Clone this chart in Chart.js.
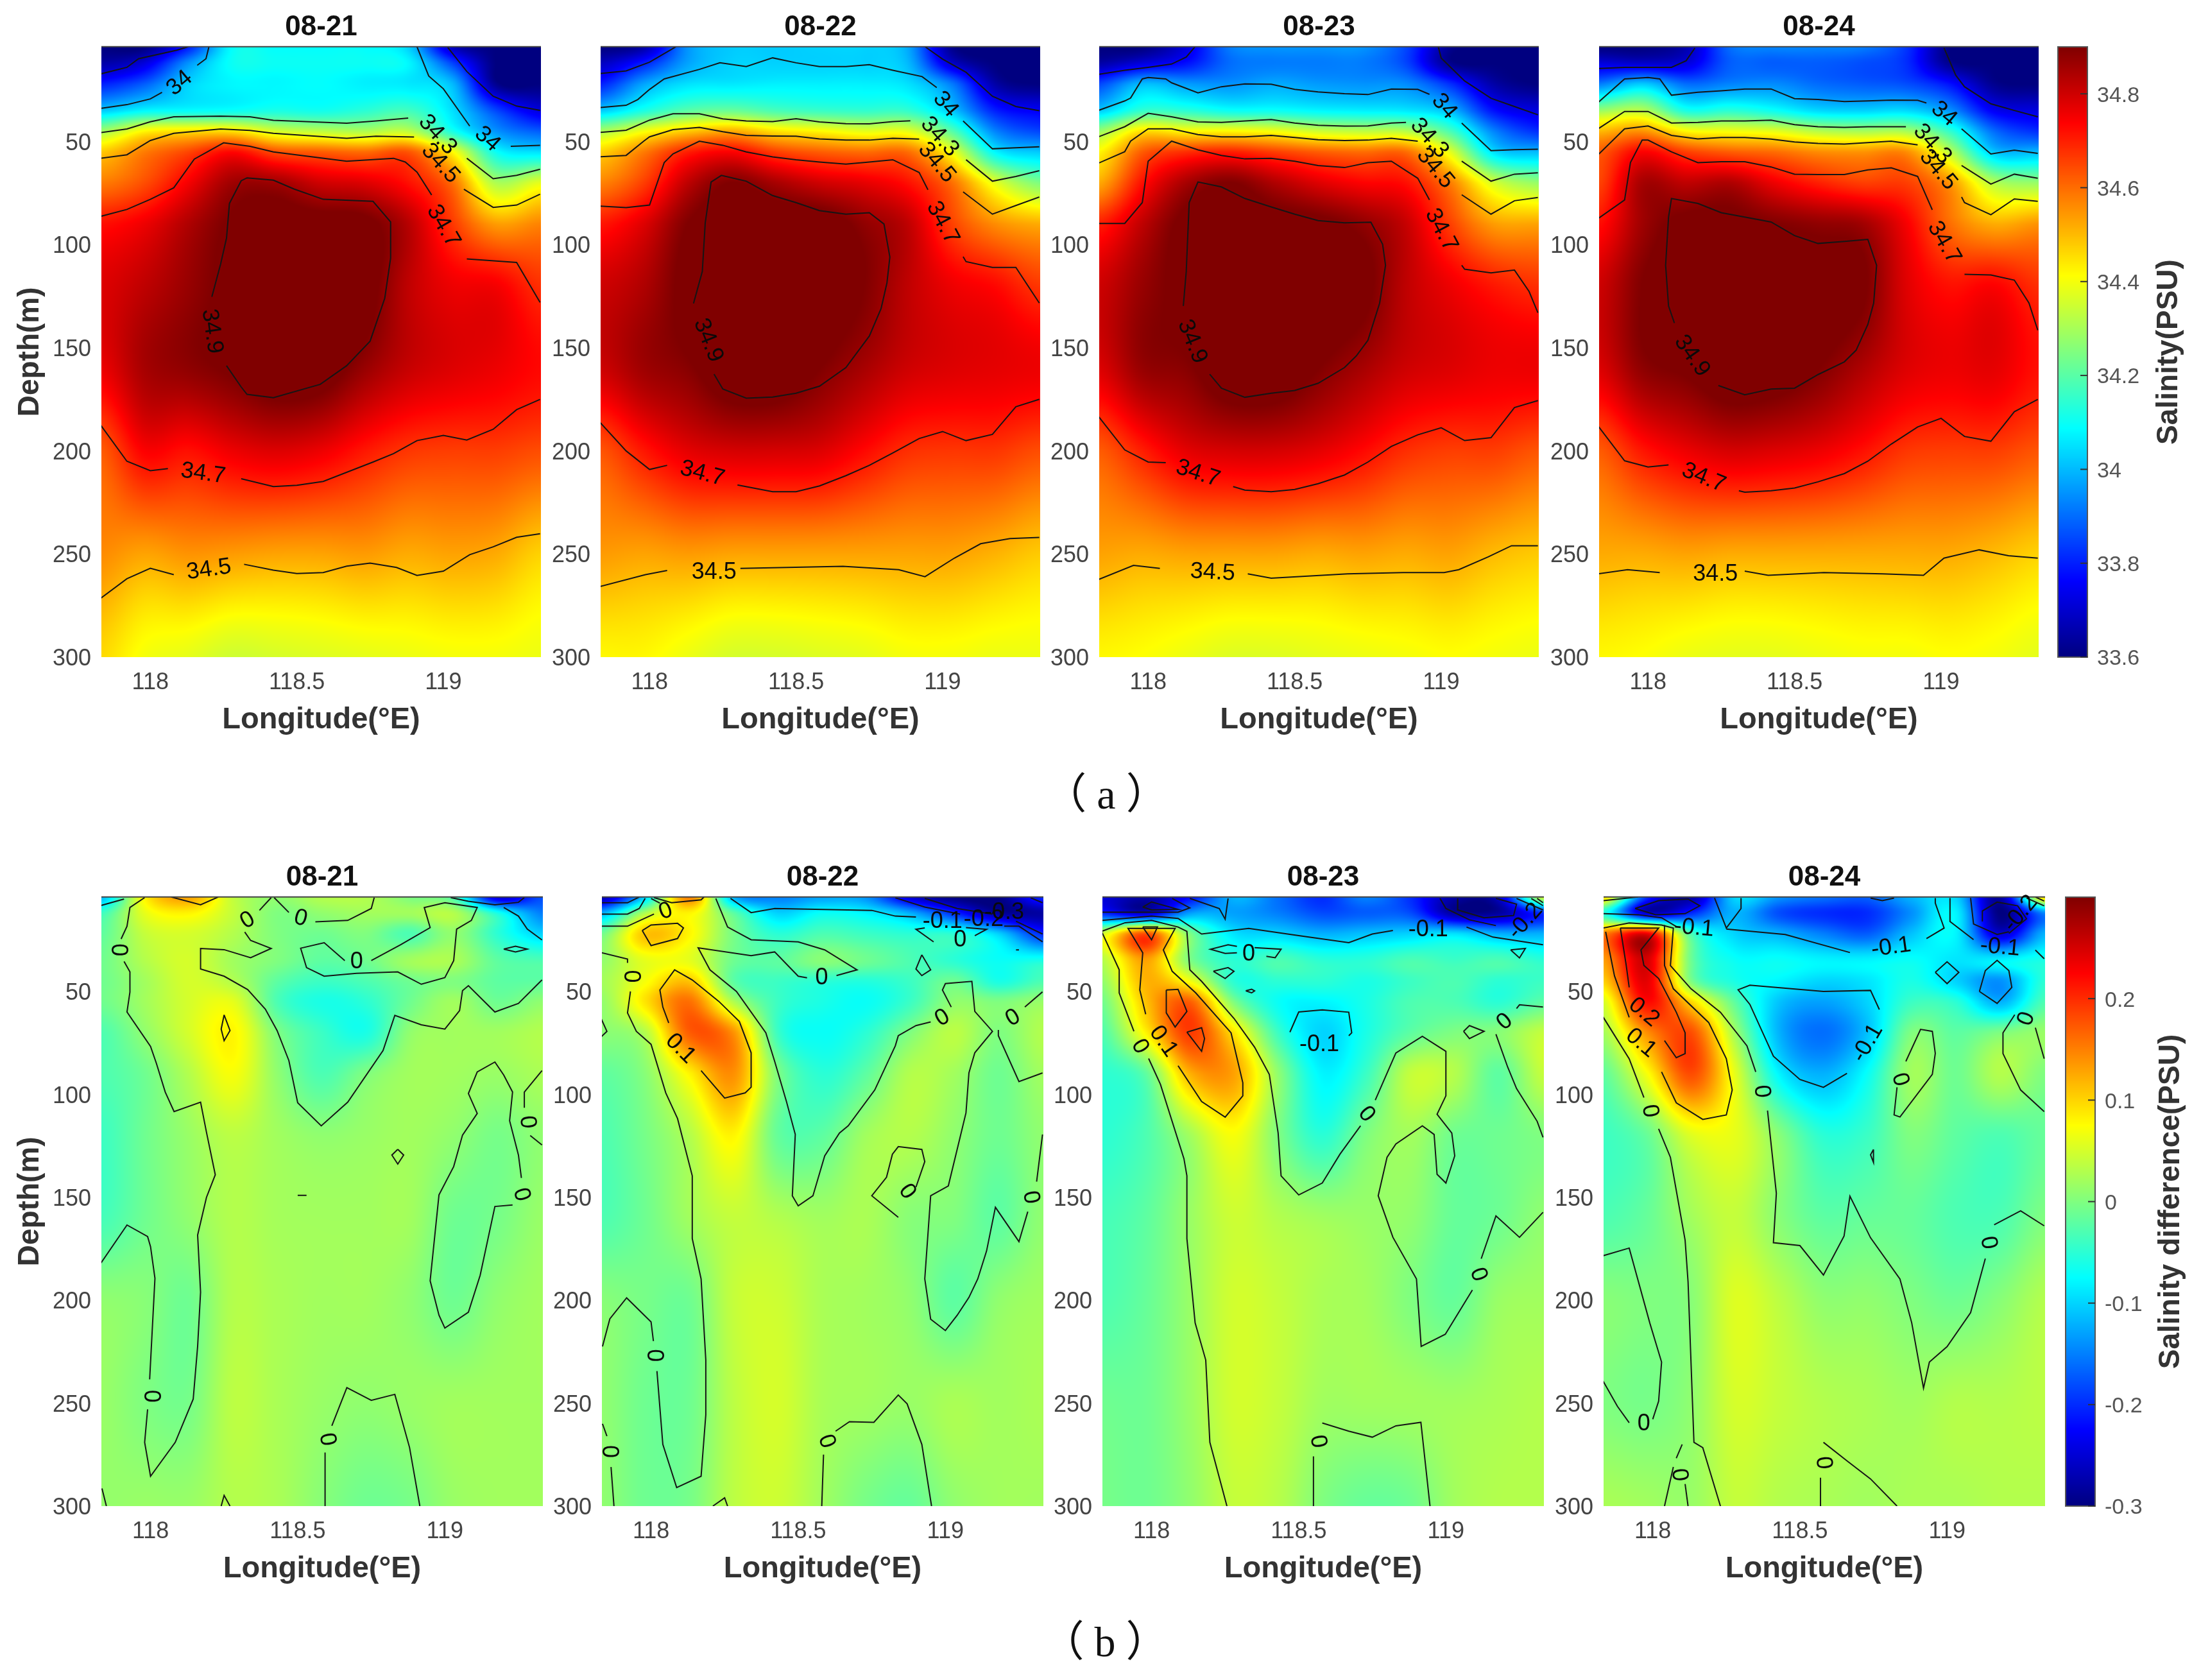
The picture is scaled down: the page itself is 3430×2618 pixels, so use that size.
<!DOCTYPE html>
<html>
<head>
<meta charset="utf-8">
<style>
  html, body { margin: 0; padding: 0; background: #fff; }
  body { width: 3430px; height: 2618px; position: relative; overflow: hidden; }
  canvas { position: absolute; }
  .caption { position: absolute; width: 300px; text-align: center; color: #111; letter-spacing: 16px;
    font-family: "Liberation Serif", "Noto Sans CJK SC", serif; font-size: 66px; line-height: 80px; }
</style>
<script src="https://cdn.jsdelivr.net/npm/chart.js@4"></script>
</head>
<body>
<div class="caption" style="left:1582px;top:1198px">（a）</div>
<div class="caption" style="left:1580px;top:2519px">（b）</div>
<script>
// grid nodes of the colour fields
const lonNodes = [117.83, 117.98, 118.13, 118.28, 118.43, 118.58, 118.73, 118.88, 119.03, 119.18, 119.33];
const depthNodes = [4, 12, 22, 35, 45, 55, 70, 90, 120, 160, 200, 250, 300];

const dayLabels = ["08-21", "08-22", "08-23", "08-24"];
const lonTicks = [118, 118.5, 119];
const depthTicks = [50, 100, 150, 200, 250, 300];
const salinityTicks = [33.6, 33.8, 34, 34.2, 34.4, 34.6, 34.8];
const diffTicks = [-0.3, -0.2, -0.1, 0, 0.1, 0.2];
const salinityRange = [33.6, 34.9];
const diffRange = [-0.3, 0.3];

// (a) salinity, rows follow depthNodes
const salinity21 = [
  [33.6,33.6,33.8,34.09,34.09,34.09,34.09,34.03,33.68,33.6,33.6],
  [33.65,33.72,33.95,34.1,34.1,34.1,34.1,34.08,33.85,33.6,33.6],
  [33.8,33.88,34.03,34.08,34.08,34.09,34.07,34.06,34.0,33.62,33.6],
  [34.02,34.08,34.09,34.1,34.12,34.11,34.14,34.17,34.05,33.85,33.72],
  [34.29,34.42,34.45,34.45,34.36,34.33,34.31,34.33,34.12,33.95,33.88],
  [34.48,34.58,34.65,34.73,34.64,34.62,34.6,34.63,34.42,34.1,34.05],
  [34.58,34.64,34.75,34.86,34.86,34.8,34.78,34.72,34.6,34.31,34.38],
  [34.72,34.76,34.84,34.91,34.93,34.93,34.92,34.83,34.67,34.54,34.57],
  [34.78,34.82,34.87,34.92,34.95,34.95,34.93,34.82,34.76,34.75,34.68],
  [34.76,34.85,34.88,34.91,34.95,34.94,34.87,34.81,34.78,34.76,34.73],
  [34.62,34.74,34.72,34.76,34.78,34.76,34.71,34.67,34.66,34.66,34.64],
  [34.56,34.53,34.55,34.54,34.53,34.53,34.54,34.52,34.53,34.52,34.47],
  [34.46,34.4,34.38,34.35,34.36,34.37,34.38,34.39,34.4,34.4,34.39]
];
const salinity22 = [
  [33.6,33.65,33.95,34.02,34.02,34.03,34.03,33.98,33.62,33.6,33.6],
  [33.68,33.8,33.97,34.03,34.03,34.03,34.03,34.0,33.7,33.6,33.6],
  [33.8,33.97,34.05,34.06,34.07,34.07,34.07,34.05,33.92,33.65,33.6],
  [34.02,34.12,34.2,34.22,34.18,34.16,34.15,34.15,34.02,33.8,33.75],
  [34.3,34.4,34.48,34.52,34.45,34.42,34.38,34.38,34.2,33.93,33.85],
  [34.47,34.58,34.7,34.74,34.66,34.62,34.6,34.6,34.4,34.08,34.02],
  [34.57,34.66,34.82,34.9,34.85,34.8,34.77,34.72,34.6,34.38,34.25],
  [34.71,34.78,34.9,34.94,34.94,34.94,34.88,34.82,34.66,34.56,34.52],
  [34.8,34.84,34.92,34.95,34.95,34.94,34.9,34.82,34.76,34.73,34.67],
  [34.8,34.86,34.89,34.95,34.95,34.9,34.85,34.8,34.78,34.77,34.76],
  [34.63,34.71,34.77,34.79,34.79,34.78,34.73,34.68,34.67,34.67,34.64],
  [34.54,34.53,34.54,34.53,34.53,34.53,34.53,34.53,34.53,34.51,34.48],
  [34.42,34.42,34.39,34.36,34.36,34.37,34.38,34.4,34.4,34.39,34.39]
];
const salinity23 = [
  [33.6,33.6,33.72,33.92,33.95,33.95,33.95,33.85,33.62,33.6,33.6],
  [33.65,33.72,33.78,33.9,33.92,33.92,33.92,33.85,33.62,33.6,33.6],
  [33.85,34.0,33.96,33.95,33.98,33.96,33.95,33.94,33.82,33.65,33.6],
  [34.02,34.15,34.14,34.1,34.1,34.08,34.07,34.06,34.0,33.78,33.72],
  [34.28,34.45,34.42,34.42,34.4,34.35,34.33,34.32,34.18,33.93,33.82],
  [34.42,34.62,34.68,34.7,34.66,34.62,34.6,34.6,34.38,34.05,34.0],
  [34.52,34.72,34.85,34.9,34.84,34.78,34.74,34.72,34.58,34.36,34.28],
  [34.7,34.82,34.92,34.93,34.93,34.92,34.88,34.81,34.66,34.54,34.53],
  [34.8,34.87,34.92,34.94,34.94,34.94,34.92,34.82,34.76,34.71,34.68],
  [34.78,34.87,34.89,34.95,34.95,34.9,34.85,34.8,34.78,34.76,34.76],
  [34.62,34.7,34.77,34.79,34.79,34.77,34.73,34.68,34.66,34.66,34.63],
  [34.53,34.52,34.53,34.53,34.53,34.52,34.53,34.52,34.53,34.5,34.48],
  [34.42,34.41,34.39,34.37,34.37,34.38,34.39,34.4,34.41,34.4,34.39]
];
const salinity24 = [
  [33.6,33.6,33.66,33.9,33.93,33.93,33.92,33.83,33.6,33.6,33.6],
  [33.72,33.7,33.72,33.88,33.88,33.88,33.86,33.82,33.62,33.6,33.6],
  [33.92,34.02,33.9,33.93,33.94,33.9,33.88,33.86,33.78,33.62,33.6],
  [34.28,34.32,34.12,34.14,34.1,34.04,34.03,34.04,33.95,33.75,33.72],
  [34.5,34.55,34.42,34.4,34.38,34.32,34.3,34.3,34.15,33.9,33.82],
  [34.62,34.74,34.66,34.62,34.6,34.56,34.55,34.56,34.33,34.02,34.0],
  [34.65,34.85,34.82,34.84,34.76,34.7,34.66,34.66,34.55,34.32,34.28],
  [34.72,34.86,34.92,34.92,34.9,34.88,34.86,34.75,34.6,34.52,34.55],
  [34.8,34.9,34.95,34.94,34.94,34.93,34.91,34.78,34.72,34.74,34.68],
  [34.78,34.88,34.91,34.95,34.94,34.9,34.84,34.78,34.76,34.77,34.72],
  [34.62,34.71,34.76,34.79,34.78,34.76,34.72,34.67,34.66,34.66,34.63],
  [34.52,34.52,34.53,34.52,34.52,34.52,34.52,34.52,34.52,34.5,34.47],
  [34.42,34.41,34.39,34.38,34.38,34.39,34.4,34.4,34.41,34.4,34.38]
];

// (b) salinity difference
const diff21 = [
  [-0.12,0.08,0.13,0.04,0.01,0.03,0.03,0,-0.03,-0.25,-0.18],
  [-0.04,0.06,0.08,0.04,0,0.01,0.02,0.02,0.03,-0.06,-0.15],
  [-0.02,0.04,0.05,0.03,0,-0.01,0,-0.03,0.01,-0.05,-0.1],
  [-0.01,0.03,0.05,0.02,0,-0.02,-0.01,0.02,0.025,-0.02,-0.03],
  [-0.01,0.02,0.05,0.03,-0.02,-0.04,-0.03,-0.01,0,-0.02,-0.02],
  [-0.01,0.02,0.05,0.06,-0.03,-0.06,-0.05,-0.01,0.02,-0.01,0.01],
  [-0.03,0.01,0.05,0.08,0,-0.04,-0.06,0.01,0.02,0.02,0.03],
  [-0.03,-0.01,0.03,0.07,0.01,-0.03,0,0.02,0.02,0.015,0.025],
  [-0.04,-0.01,0.015,0.035,0.02,0.01,0.015,0.02,0.01,-0.005,0.01],
  [-0.035,-0.01,0.01,0.03,0.022,0.02,0.02,0.02,-0.01,-0.005,0.015],
  [0.01,0.005,-0.01,0.03,0.025,0.02,0.02,0.01,-0.01,0.01,0.02],
  [0.015,0,-0.005,0.035,0.025,0.015,0.01,0.015,0.02,0.02,0.02],
  [0.012,0.015,0.015,0.03,0.025,0.005,-0.01,-0.005,0.015,0.02,0.02]
];
const diff22 = [
  [-0.28,-0.1,0.15,-0.12,-0.15,-0.13,-0.14,-0.25,-0.3,-0.3,-0.2],
  [-0.12,0.03,0.08,-0.02,-0.1,-0.07,-0.08,-0.12,-0.2,-0.28,-0.28],
  [-0.01,0.11,0.08,-0.005,-0.05,-0.03,-0.04,-0.05,-0.05,-0.1,-0.2],
  [0.01,0.06,0.06,-0.01,-0.02,0.005,-0.01,-0.03,-0.05,-0.07,-0.06],
  [0.02,0.07,0.11,-0.02,-0.04,-0.05,-0.055,-0.04,-0.01,-0.06,-0.03],
  [0.01,0.09,0.16,0.03,-0.04,-0.06,-0.07,-0.04,0.01,0,0.015],
  [0.005,0.03,0.17,0.14,-0.04,-0.07,-0.05,0,0.035,0,0.03],
  [-0.02,0.005,0.08,0.14,0,-0.05,-0.02,0.03,0.02,-0.01,0.02],
  [-0.03,-0.005,0.03,0.08,-0.015,-0.02,0.02,0.03,0.01,-0.01,0.01],
  [-0.03,-0.01,0.02,0.04,0.03,0.02,0.025,0.005,0,-0.02,0.01],
  [0.005,-0.005,-0.01,0.04,0.045,0.025,0.02,0.01,-0.02,0.01,0.02],
  [0.01,-0.01,-0.01,0.035,0.05,0.025,0.02,0.015,0.025,0.02,0.025],
  [0.01,-0.01,-0.005,0.035,0.045,0.02,-0.005,-0.015,0.01,0.02,0.02]
];
const diff23 = [
  [-0.25,-0.28,-0.22,-0.12,-0.16,-0.2,-0.15,-0.2,-0.28,-0.26,0.05],
  [-0.2,-0.25,-0.13,-0.13,-0.15,-0.18,-0.17,-0.18,-0.28,-0.28,-0.2],
  [0.05,0.18,0,-0.09,-0.1,-0.12,-0.11,-0.1,-0.09,-0.12,-0.12],
  [0.03,0.13,0,-0.05,-0.03,-0.05,-0.05,-0.03,-0.04,-0.03,-0.05],
  [0.01,0.12,0.07,-0.05,-0.05,-0.05,-0.06,-0.04,-0.03,-0.05,-0.04],
  [-0.01,0.11,0.17,0,-0.07,-0.08,-0.06,-0.03,-0.03,-0.05,-0.02],
  [-0.03,0.08,0.19,0.09,-0.04,-0.1,-0.06,-0.02,0,0.005,0.04],
  [-0.05,-0.02,0.12,0.13,0.01,-0.08,-0.04,0.04,0.03,-0.02,0.04],
  [-0.05,-0.03,0.02,0.07,0,-0.05,0,0.02,-0.01,-0.01,0],
  [-0.035,-0.02,0.015,0.045,0.03,0.02,0.015,0.01,-0.015,-0.01,0.01],
  [-0.03,-0.015,0.015,0.048,0.04,0.025,0.02,0,-0.015,0.015,0.02],
  [-0.01,-0.01,0.015,0.048,0.04,0.02,0.02,0.02,0.02,0.025,0.03],
  [-0.005,-0.01,0.01,0.04,0.032,0,-0.015,-0.01,0.02,0.03,0.03]
];
const diff24 = [
  [0.1,-0.2,-0.28,-0.1,-0.14,-0.16,-0.17,-0.12,-0.1,-0.28,0.1],
  [-0.05,-0.25,-0.2,-0.12,-0.18,-0.2,-0.2,-0.14,-0.08,-0.3,-0.15],
  [0.15,0.24,-0.03,-0.1,-0.12,-0.15,-0.17,-0.11,-0.08,-0.25,-0.12],
  [0.13,0.25,-0.01,-0.07,-0.07,-0.08,-0.08,-0.07,-0.09,-0.08,-0.06],
  [0.1,0.24,0,-0.06,-0.08,-0.1,-0.09,-0.06,-0.1,-0.14,-0.05],
  [0.05,0.22,0.1,-0.02,-0.11,-0.13,-0.1,-0.04,-0.05,-0.12,-0.03],
  [0.02,0.14,0.18,0.02,-0.12,-0.16,-0.11,0,-0.02,0,0.015],
  [-0.02,0.07,0.18,0.06,-0.08,-0.12,-0.07,0.02,-0.01,0.03,0],
  [-0.04,-0.015,0.055,0.06,0.005,-0.05,-0.04,0,-0.02,-0.03,-0.015],
  [-0.03,-0.015,0.02,0.04,0.005,-0.02,-0.015,-0.015,-0.03,-0.03,0],
  [0.005,0,0.005,0.055,0.035,0.01,0.01,0,-0.01,0.005,0.03],
  [0,-0.005,0.01,0.05,0.04,0.03,0.025,0.02,0.03,0.03,0.035],
  [0.025,0.02,0.015,0.04,0.03,0.025,0.02,0.025,0.025,0.03,0.03]
];

// contour lines as [longitude, depth]
const salinityLines21 = [
  [[117.83,17.2],[117.92,14],[117.96,9.8],[118.09,5.7],[118.13,4]],
  [[119.015,4.3],[119.08,16],[119.17,28],[119.25,32.8],[119.33,34.9]],
  [[117.83,33.9],[117.92,32.1],[118,29.3],[118.04,26.1]],
  [[118.16,13],[118.19,9.8],[118.2,4]],
  [[118.91,4],[118.95,18.2],[119,24.4],[119.09,42.5]],
  [[119.23,52.3],[119.33,51.8]],
  [[117.83,45.7],[117.92,43.9],[118,40.4],[118.08,38],[118.24,37.7],[118.34,38],[118.42,39.7],[118.67,41.1],[118.77,40],[118.88,38.6]],
  [[119.08,58.1],[119.17,68],[119.25,66.4],[119.33,63.4]],
  [[117.83,58.1],[117.92,56.4],[118,49.5],[118.08,46],[118.24,43.9],[118.34,44.6],[118.42,46],[118.67,48.4],[118.77,47.4],[118.9,47.8]],
  [[119.07,73.1],[119.17,81.9],[119.25,80.8],[119.33,75.5]],
  [[117.83,86.3],[117.92,82.9],[118,78],[118.08,72.4],[118.15,58.5],[118.25,50.6],[118.34,52.3],[118.42,55],[118.67,59.5],[118.83,58.1],[118.87,59.9],[118.91,64.8],[118.96,75.9]],
  [[119.08,106.9],[119.25,108.6],[119.33,128]],
  [[118.21,125.3],[118.24,109.3],[118.26,96.8],[118.27,80],[118.31,69],[118.33,67.6],[118.42,68.7],[118.49,73],[118.59,78],[118.76,79],[118.82,89],[118.82,106.5],[118.8,126],[118.75,146.8],[118.67,158.7],[118.58,167.7],[118.42,174.2],[118.33,172.6],[118.31,169],[118.26,158.7]],
  [[117.83,187.4],[117.92,205],[118,209.6],[118.06,208.6]],
  [[118.31,213.5],[118.42,217.3],[118.5,216.7],[118.59,214.8],[118.76,205.4],[118.83,201.3],[118.91,195],[119,192.5],[119.08,194.7],[119.17,189.5],[119.25,180],[119.33,175]],
  [[117.83,271.5],[117.92,262],[118,256.9],[118.08,260]],
  [[118.32,255],[118.42,257.8],[118.5,259.5],[118.59,259],[118.67,255.9],[118.75,254.4],[118.84,256.5],[118.91,260.4],[119,258.3],[119.09,250.3],[119.17,246.5],[119.25,241.9],[119.33,240.2]]
];
const salinityLabels21 = [
  ["34",118.10,21.7,-40],["34.3",118.98,46.7,48],["34.5",118.99,60.6,48],["34",119.15,48.8,42],
  ["34.7",119,91,60],["34.9",118.21,142,82],["34.7",118.18,211,8],["34.5",118.2,257.6,-8]
];
const salinityLines22 = [
  [[117.83,17],[117.92,15.7],[118,11.5],[118.09,4]],
  [[118.94,4],[119,10],[119.08,16.4],[119.17,28],[119.25,33],[119.33,35]],
  [[117.83,33.5],[117.92,32.4],[117.96,29.6],[118,24.7],[118.05,19.6],[118.17,15],[118.24,11.8],[118.33,13.6],[118.42,9.4],[118.5,11.8],[118.58,13.6],[118.67,13.6],[118.75,12.7],[118.83,15.4],[118.93,18.5],[118.98,23.8]],
  [[119.07,40],[119.17,53.5],[119.25,53],[119.33,52.5]],
  [[117.83,45.6],[117.92,44.5],[118,39.6],[118.08,36.5],[118.17,36.5],[118.25,39],[118.33,40],[118.42,40.3],[118.5,38.9],[118.58,40.5],[118.67,41.3],[118.75,41.4],[118.83,40.3],[118.89,39.9]],
  [[119.08,58.8],[119.17,69.2],[119.25,66.9],[119.33,64.1]],
  [[117.83,57.4],[117.92,56.7],[117.98,49.8],[118,47.7],[118.08,44.2],[118.17,43.1],[118.25,45.2],[118.33,47],[118.42,47.3],[118.5,47.4],[118.58,48.7],[118.67,49.3],[118.75,49.3],[118.83,48.4],[118.92,48.8]],
  [[119.07,74.4],[119.17,85.2],[119.25,81],[119.33,76.9]],
  [[117.83,81.3],[117.92,82],[118,80.8],[118.05,60.2],[118.08,56],[118.17,49.8],[118.25,51.8],[118.33,55],[118.42,57.4],[118.5,58.8],[118.58,59.9],[118.67,60.9],[118.75,59.9],[118.83,58.8],[118.92,65],[118.95,73.4]],
  [[119.07,105.8],[119.08,108.2],[119.17,111],[119.25,111],[119.33,128.3]],
  [[118.15,128.5],[118.18,113],[118.19,89.4],[118.21,69.6],[118.245,66.4],[118.33,69.2],[118.42,76.2],[118.5,79.6],[118.58,83.5],[118.67,85.2],[118.75,84.5],[118.8,90],[118.82,106],[118.81,118.6],[118.79,131],[118.75,144.3],[118.67,159.6],[118.58,168.6],[118.5,172],[118.42,173.9],[118.33,174.4],[118.25,170],[118.22,162.8]],
  [[117.83,186],[117.92,200],[118,209],[118.06,207]],
  [[118.3,216.5],[118.42,219.8],[118.5,219.8],[118.58,217],[118.67,212],[118.75,207],[118.83,201],[118.92,194],[119,190.6],[119.08,195],[119.17,192],[119.25,178.6],[119.33,175]],
  [[117.83,265.8],[117.986,260],[118.06,258]],
  [[118.31,257],[118.66,256],[118.85,257.6],[118.94,261],[119.04,252],[119.13,245],[119.23,242.5],[119.33,242]]
];
const salinityLabels22 = [
  ["34",119.01,32,50],["34.3",118.99,47.7,48],["34.5",118.98,60.2,50],["34.7",119,89.4,62],
  ["34.9",118.2,146.4,68],["34.7",118.18,211,15],["34.5",118.22,259,0]
];
const salinityLines23 = [
  [[117.83,17.4],[117.92,15.4],[118,14],[118.08,12.4],[118.13,9],[118.16,4]],
  [[118.99,4],[119,9.5],[119.08,20.6],[119.17,29],[119.25,33],[119.33,37]],
  [[117.83,34.9],[117.92,30.3],[117.94,28.9],[117.98,19.6],[118,18.9],[118.06,19.6],[118.08,21.5],[118.17,26.4],[118.25,23.4],[118.33,22],[118.42,22.2],[118.5,24.7],[118.58,25.9],[118.67,26.8],[118.75,27.2],[118.83,24.5],[118.92,24.7],[118.96,27.1]],
  [[119.07,41],[119.17,54.4],[119.25,53.9],[119.33,53.7]],
  [[117.83,47.7],[117.92,42.8],[118,36.3],[118.08,38],[118.17,40.5],[118.25,40.7],[118.33,40],[118.42,39.3],[118.5,41],[118.58,42.1],[118.67,42.5],[118.75,42.4],[118.83,41],[118.88,40.7]],
  [[119.07,59.5],[119.17,69.2],[119.25,65.8],[119.33,65.1]],
  [[117.83,60.5],[117.92,54.9],[117.94,49.8],[118,43.8],[118.08,43.8],[118.17,46.6],[118.25,47.7],[118.33,47.7],[118.42,47],[118.5,48],[118.58,49.1],[118.67,49.5],[118.75,49.3],[118.83,48.4],[118.92,49.8]],
  [[119.07,75.8],[119.17,85.2],[119.25,78.7],[119.33,77.1]],
  [[117.83,89.7],[117.92,89.7],[117.98,79.6],[118,59.5],[118.08,49.8],[118.17,54],[118.25,56.7],[118.33,58.4],[118.42,58.1],[118.5,59.5],[118.58,61.6],[118.67,62.6],[118.75,60.2],[118.83,59.5],[118.92,67.8],[118.96,78.3]],
  [[119.07,110],[119.08,111.9],[119.17,113.7],[119.25,112.3],[119.3,122.7],[119.33,133]],
  [[118.12,129.7],[118.13,113],[118.14,79.6],[118.17,69.6],[118.25,72],[118.33,77.6],[118.42,81.7],[118.5,85.2],[118.58,88.3],[118.67,89.4],[118.76,89.1],[118.8,99.8],[118.81,110],[118.79,128.3],[118.75,146.4],[118.71,154],[118.67,159.6],[118.58,167.2],[118.5,170.7],[118.42,172],[118.33,174],[118.25,169.6],[118.21,162.8]],
  [[117.83,183.2],[117.92,199.5],[118,205.4],[118.06,205.7]],
  [[118.29,217.3],[118.33,219],[118.42,219.8],[118.5,218.7],[118.58,215.9],[118.67,211.7],[118.75,205.4],[118.83,197.8],[118.92,192.2],[119,188.8],[119.08,195],[119.17,193.6],[119.25,179],[119.33,175.6]],
  [[117.83,262.4],[117.95,255.5],[118.04,257]],
  [[118.34,259.6],[118.42,261.7],[118.68,259.6],[118.87,259],[119.01,259],[119.06,257.6],[119.16,251.4],[119.24,246],[119.33,246]]
];
const salinityLabels23 = [
  ["34",119.01,33,50],["34.3",118.96,48.4,48],["34.5",118.98,63,50],["34.7",119,92.9,62],
  ["34.9",118.15,147,68],["34.7",118.17,211,18],["34.5",118.22,259,3]
];
const salinityLines24 = [
  [[117.83,14.6],[117.92,14],[118,14],[118.08,14],[118.13,10.8],[118.16,4.6]],
  [[119.01,4.6],[119.05,17.8],[119.08,23.4],[119.17,31.7],[119.25,34.9],[119.33,38]],
  [[117.83,31],[117.92,19.6],[118,18.9],[118.04,19.6],[118.08,27.5],[118.17,26.1],[118.25,25.4],[118.33,24.5],[118.42,24.5],[118.5,29.2],[118.58,29.6],[118.67,30.6],[118.75,30.3],[118.83,29.9],[118.92,30],[118.95,31.3]],
  [[119.07,43.8],[119.17,56],[119.25,54.2],[119.33,55.7]],
  [[117.83,43.8],[117.92,35.4],[118,35.4],[118.08,41],[118.17,40.7],[118.25,40],[118.33,40],[118.42,39.6],[118.5,41.8],[118.58,42.8],[118.67,43.1],[118.75,42.8],[118.83,42.8],[118.88,42.8]],
  [[119.07,61.6],[119.17,70.6],[119.25,65.8],[119.33,67.8]],
  [[117.83,56.3],[117.92,43.8],[118,42.4],[118.08,47],[118.17,48.7],[118.25,48],[118.33,48],[118.42,48.8],[118.5,50.2],[118.58,50.9],[118.67,51.2],[118.75,50.5],[118.83,49.8],[118.92,51.6]],
  [[119.07,76.9],[119.08,79.6],[119.17,85.5],[119.25,77.8],[119.33,79]],
  [[117.83,87.3],[117.92,78.3],[117.94,60.2],[117.98,49.3],[118,49.3],[118.08,55],[118.17,60.2],[118.25,59.8],[118.33,59.8],[118.42,62.3],[118.5,65.8],[118.58,66],[118.67,66],[118.75,63.7],[118.83,62.7],[118.92,66.9],[118.97,83.1]],
  [[119.08,114.4],[119.17,114.7],[119.25,117.2],[119.3,128.3],[119.33,141.5]],
  [[118.09,138],[118.07,129.7],[118.06,110],[118.07,86.6],[118.08,77.6],[118.17,80],[118.25,84.5],[118.33,86.6],[118.42,89],[118.5,95.6],[118.58,99.4],[118.67,98.4],[118.75,97.4],[118.78,110],[118.77,128.3],[118.75,138.7],[118.71,151.2],[118.67,156.8],[118.58,163],[118.5,169.6],[118.42,170],[118.33,172.8],[118.24,168.3]],
  [[117.83,188],[117.92,204.8],[118,207.8],[118.07,206.8]],
  [[118.31,219.3],[118.33,220],[118.42,219.3],[118.5,218],[118.58,215],[118.67,211],[118.75,205],[118.83,196.7],[118.92,188.4],[119,184.2],[119.08,193],[119.17,195.3],[119.25,181],[119.33,175]],
  [[117.83,259.6],[117.93,257.6],[118.04,259]],
  [[118.33,258.3],[118.41,260.3],[118.6,259],[118.8,259.6],[118.94,260.3],[119.01,252],[119.13,248],[119.23,250.8],[119.33,252]]
];
const salinityLabels24 = [
  ["34",119.01,36.6,40],["34.3",118.97,51.2,48],["34.5",118.99,63.7,50],["34.7",119.01,99,60],
  ["34.9",118.15,154,55],["34.7",118.19,213,22],["34.5",118.23,260,0]
];

const diffLines21 = [
  [[118.07,4],[118.17,7.8],[118.23,4]],
  [[117.98,4.3],[117.93,9.1],[117.92,18.2],[117.9,24.4]],
  [[117.91,35.3],[117.93,40.4],[117.93,50.2],[117.92,59.9],[118,76.6],[118.02,84.9],[118.05,98.8],[118.08,108.3],[118.17,103.7],[118.19,118.3],[118.22,139],[118.19,150],[118.16,168.3],[118.17,196],[118.16,222.4],[118.145,248],[118.084,269],[118,285.5],[117.98,269],[117.99,253]],
  [[117.997,238.4],[118.015,189.3],[118,173.9],[117.99,169],[117.92,163.4],[117.83,182.2]],
  [[118.41,4.3],[118.37,10.5]],
  [[118.32,21],[118.34,25.1],[118.41,29],[118.34,33.5],[118.25,29.6],[118.17,29],[118.17,39],[118.25,42.5],[118.33,49],[118.39,58.5],[118.43,68.9],[118.47,83.5],[118.5,104],[118.58,115.2],[118.67,103.7],[118.79,78.6],[118.83,61.5],[118.92,66.1],[119,68.2],[119.05,59.2],[119.06,49.5],[119.08,47.1],[119.17,59.9],[119.25,55.7],[119.33,44.3]],
  [[118.42,4.3],[118.47,11.5]],
  [[118.56,16.1],[118.67,15.4],[118.75,9.6],[118.76,4.3]],
  [[118.66,34.9],[118.59,26.2],[118.51,28.9],[118.53,38.3],[118.59,42.5],[118.7,41.1],[118.84,40.4],[118.92,46.4],[119,43.2],[119.03,34.9],[119.04,19.6],[119.09,15.4],[119.11,9.1],[119,6.8],[118.93,9.1],[118.95,18.9],[118.85,27.2],[118.75,34.9]],
  [[119.02,4.3],[119.08,6.1],[119.17,7.8],[119.25,6.6],[119.27,4.3]],
  [[119.2,9.1],[119.25,13.3],[119.28,19.6],[119.33,24.9]],
  [[117.83,8.2],[117.91,5]],
  [[118.25,61.3],[118.24,68.2],[118.25,73.8],[118.27,68.9],[118.25,61.3]],
  [[119.2,29.3],[119.24,27.9],[119.28,29.3],[119.24,30.7],[119.2,29.3]],
  [[118.84,126.6],[118.86,129.4],[118.84,133.8],[118.82,129.4],[118.84,126.6]],
  [[118.5,149],[118.53,149]],
  [[119.23,153.7],[119.17,154.4],[119.12,187.8],[119.08,205.8],[119,213.5],[118.98,207.2],[118.95,190.5],[118.98,148.8],[119.03,135],[119.06,119.7],[119.11,109.2],[119.08,99.5],[119.11,89],[119.17,84.2],[119.2,90.5],[119.23,98.8],[119.22,112.7],[119.25,129.4],[119.26,140.5]],
  [[119.33,88.4],[119.27,98.8],[119.27,106.4]],
  [[119.29,119.9],[119.33,124.5]],
  [[117.835,291.4],[117.85,300]],
  [[118.24,300],[118.25,294.8],[118.27,300]],
  [[118.593,300],[118.593,274]],
  [[118.616,261],[118.667,242.4],[118.75,248.6],[118.83,245.7],[118.88,271.5],[118.915,300]]
];
const diffLabels21 = [
  ["0",117.89,29.7,90],["0",118.33,15.4,-30],["0",118.51,14.4,15],["0",118.7,35.5,0],
  ["0",119.28,113.4,85],["0",119.26,148.6,75],["0",118,246.6,90],["0",118.6,267.6,80]
];
const diffLines22 = [
  [[117.83,6.8],[117.92,6.8],[117.96,4]],
  [[117.83,12.3],[117.92,12.3],[117.96,9.6],[117.98,4.7]],
  [[117.83,18.2],[117.92,18.2],[118.01,12.3]],
  [[118.03,7],[118,4.7]],
  [[118.01,4.3],[118.07,6.8],[118.17,5.4],[118.18,4]],
  [[117.97,20.3],[118,27.6],[118.09,24.2],[118.11,19],[118.09,16.8],[118,17.6],[117.97,20.3]],
  [[118.06,65.2],[118.04,57.5],[118.03,49.2],[118.08,39.4],[118.14,44.3],[118.23,54.7],[118.3,64.5],[118.34,79.7],[118.34,96.4],[118.32,99.2],[118.25,101.7],[118.17,88.4]],
  [[117.83,31],[117.92,34.2],[117.92,36]],
  [[117.93,49.9],[117.92,60.3],[117.95,69.3],[118,75.6],[118.05,99.2],[118.09,111.7],[118.14,139.5],[118.14,170],[118.17,189.6],[118.186,229],[118.186,255.6],[118.17,285.5],[118.087,291],[118.04,270],[118.02,234.4]],
  [[118.008,219.8],[118,210.5],[117.917,198.8],[117.86,209],[117.835,222.4]],
  [[118.22,4.7],[118.26,18.6],[118.34,24.8],[118.5,25.8],[118.59,29.7],[118.7,39.4],[118.63,42.2]],
  [[118.53,43.3],[118.5,42.5],[118.42,30.7],[118.34,32.5],[118.16,28.7],[118.2,39.4],[118.29,49.9],[118.39,70],[118.42,83.9],[118.46,103.4],[118.49,119.4],[118.48,149.2],[118.5,154.1],[118.55,149.2],[118.59,129.8],[118.64,118.7],[118.67,115.2],[118.76,97.8],[118.83,76.3],[118.84,71.4],[118.9,66.5],[118.95,64.7]],
  [[119.02,57.5],[118.99,49.2],[119,46.1],[119.09,45],[119.1,59.6],[119.16,69.3],[119.1,79.7],[119.08,89.5],[119.07,108.9],[119.05,120.8],[119.01,144.4],[118.95,149.2],[118.93,189.6],[118.95,209.2],[119,214.7],[119.04,207.3],[119.08,198.6],[119.11,189.6],[119.14,176],[119.17,154.8],[119.25,171.5],[119.28,156.9]],
  [[119.31,142.3],[119.33,119.4]],
  [[119.33,50.1],[119.27,57.5]],
  [[119.18,68.6],[119.18,71.4],[119.25,93.7],[119.33,89.5]],
  [[118.92,32.1],[118.95,39.4],[118.92,42.2],[118.9,39],[118.92,32.1]],
  [[118.84,159.7],[118.75,149.2],[118.8,140.2],[118.82,129],[118.84,125.3],[118.92,126.7],[118.93,132.6],[118.9,145]],
  [[118.27,4.7],[118.34,11.6],[118.42,9.6],[118.75,10.5],[118.83,13.3],[118.9,13.7]],
  [[118.96,25.8],[118.9,19.7],[118.93,19]],
  [[119.07,18.9],[119.14,19.7],[119.1,22.8]],
  [[119.2,18.2],[119.25,18.2],[119.33,25.8]],
  [[118.83,4.4],[118.93,8.9],[119.05,12.3]],
  [[118.93,4.7],[119.04,9.6],[119.16,12.3]],
  [[119.29,4.4],[119.33,6.8]],
  [[119.24,15.8],[119.33,22]],
  [[119.24,29.7],[119.25,29.7]],
  [[117.83,63],[117.85,69.3],[117.83,72]],
  [[117.835,260],[117.85,266]],
  [[117.864,281],[117.874,300]],
  [[118.21,300],[118.25,296],[118.26,300]],
  [[118.58,300],[118.586,275]],
  [[118.627,263.6],[118.674,259],[118.757,259.3],[118.84,246],[118.87,250.3],[118.92,270],[118.953,300]]
];
const diffLabels22 = [
  ["0",118.05,11,-20],["0",117.93,42.6,90],["0.1",118.1,77.7,45],["0",118.58,43.3,0],
  ["-0.1",118.99,15.8,0],["-0.2",119.13,15.1,0],["-0.3",119.2,11.6,0],["0",119.05,24.9,0],
  ["0",118.99,62.8,-30],["0",119.23,62.8,-30],["0",118.87,147.2,55],["0",119.29,150,80],
  ["0",118.01,226.8,90],["0",117.856,273.5,90],["0",118.596,268.6,70]
];
const diffLines23 = [
  [[117.83,11.4],[118.09,11.4],[118.13,9.3],[118.07,4.7]],
  [[117.97,8.9],[118,6.4],[118.09,10],[118,10.3],[117.97,8.9]],
  [[117.83,15.4],[118,13.3],[118.09,14.4],[118.17,22],[118.33,19.3],[118.5,22.8],[118.67,26.2],[118.75,22],[118.82,20.3]],
  [[119.07,18.6],[119.16,23.5],[119.33,27.2]],
  [[117.83,20.7],[117.89,39.4],[117.89,50.6],[117.94,69.3]],
  [[117.99,82.5],[118.03,95],[118.11,131.2],[118.12,139.5],[118.12,170],[118.148,211],[118.184,229],[118.198,269],[118.256,300]],
  [[117.83,20.7],[117.91,16.5],[118,15.4],[118.09,18.6],[118.12,20.7],[118.13,39.4],[118.17,45],[118.28,63],[118.35,77],[118.4,90.2],[118.43,118.7],[118.44,139.5],[118.5,148.8],[118.58,143],[118.64,129],[118.71,115.2]],
  [[118.76,102.7],[118.83,79.8],[118.92,71.7],[119,79],[119,88],[119,100.6],[118.97,109.6],[119.02,118.7],[119.03,129.8],[119,143],[118.97,138.8],[118.96,119.4],[118.92,115.2],[118.83,124],[118.8,130.5],[118.77,149.2],[118.82,169.4],[118.9,189.6],[118.916,222.4],[118.998,216.5],[119.09,195]],
  [[119.12,179.8],[119.17,159],[119.25,169.4],[119.33,157.2]],
  [[117.98,61],[117.96,49.2],[117.97,31.1],[117.92,19.3],[118.08,19.3],[118.04,29.7],[118.07,40.1],[118.15,50.6],[118.27,70],[118.31,94.3],[118.31,100.6],[118.25,111],[118.17,103.4],[118.09,86]],
  [[117.97,18.6],[118.02,18.6],[118,24.8],[117.97,18.6]],
  [[118.05,49.2],[118.09,48.9],[118.12,59.6],[118.08,67.2],[118.05,60.3],[118.05,49.2]],
  [[118.12,69.7],[118.17,67.5],[118.18,72.8],[118.17,79],[118.12,69.7]],
  [[118.29,28],[118.26,27.2],[118.2,29.4],[118.25,31.4],[118.29,31.1]],
  [[118.35,28.6],[118.44,29.4],[118.42,33.5],[118.39,32.8]],
  [[118.21,40.1],[118.26,38.3],[118.28,40.1],[118.25,43.6],[118.21,40.1]],
  [[118.32,49.6],[118.34,48.8],[118.35,49.6],[118.34,50.6],[118.32,49.6]],
  [[118.47,69.7],[118.5,59.9],[118.58,58.9],[118.67,60],[118.68,70],[118.67,71.4]],
  [[118.13,4.7],[118.23,9.6],[118.25,14.8],[118.26,4.7]],
  [[118.98,4.7],[119,9.6],[119.08,15.1],[119.17,17.9]],
  [[119.04,4.7],[119.04,10.3],[119.13,14.1],[119.23,13],[119.24,7.5],[119.17,4.7]],
  [[119.24,4.7],[119.33,10.3]],
  [[119.29,4.7],[119.33,8.2]],
  [[119.31,4.7],[119.33,6.8]],
  [[119.22,29.7],[119.27,29],[119.25,33.6],[119.22,29.7]],
  [[119.06,69.3],[119.08,66.5],[119.13,69.3],[119.08,72.8],[119.06,69.3]],
  [[119.24,58.2],[119.25,56.4],[119.33,57.5]],
  [[119.17,70.7],[119.21,86.7],[119.24,97.1],[119.31,113],[119.33,120.8]],
  [[118.55,300],[118.55,275.8]],
  [[118.58,259.6],[118.67,263.6],[118.75,266.5],[118.83,261],[118.915,259.3],[118.946,300]]
];
const diffLabels23 = [
  ["-0.1",118.94,20,0],["-0.2",119.27,15.8,-48],["0",118.33,31.8,0],["0.1",118.04,74.2,55],
  ["0",117.96,76.7,60],["-0.1",118.57,75.7,0],["0",118.73,109.6,50],["0",119.2,64.7,-40],
  ["0",119.11,187.5,70],["0",118.565,268.6,80]
];
const diffLines24 = [
  [[117.83,12.1],[117.95,12.6],[118.03,14.1],[118.08,18.4]],
  [[117.83,19.1],[117.92,16.6],[118.03,17.6],[118.07,19.1],[118.06,37.3],[118.13,48.6],[118.23,60],[118.32,76.3],[118.35,89]],
  [[118.39,107.8],[118.42,148],[118.41,172],[118.5,173.4],[118.58,187.7],[118.65,168.8],[118.67,149.4],[118.74,169.6],[118.84,189.7],[118.88,211],[118.92,242.7],[118.94,230],[119,222.5],[119.08,206],[119.13,179.7]],
  [[119.16,163.3],[119.25,156.5],[119.33,163.8]],
  [[117.83,62],[117.92,82.6],[117.97,101.5]],
  [[118.02,116.7],[118.06,130.5],[118.11,170.8],[118.12,191],[118.14,269],[118.17,271.6],[118.23,300]],
  [[117.89,19.1],[117.91,37.3],[117.92,47.9]],
  [[118.04,73.8],[118.08,82.1],[118.11,80.1],[118.11,70],[118.08,60],[118.02,43.6],[117.97,37.3],[117.96,29.7],[118.02,19.1],[117.89,19.1]],
  [[117.84,20.9],[117.87,42.3],[117.92,62.5]],
  [[118.03,89],[118.08,104],[118.17,112.1],[118.25,109.9],[118.27,97.8],[118.25,82.6],[118.19,65],[118.07,48.6],[118.04,37.3],[118.04,17.6]],
  [[118.21,4.5],[118.25,19.1],[118.3,9.6],[118.3,4.5]],
  [[118.25,19.6],[118.45,22.2],[118.67,31]],
  [[118.93,24.2],[118.99,19.1],[118.96,7],[118.96,4.5]],
  [[119.01,4.5],[119.01,15.9],[119.09,24.7]],
  [[119.3,29.8],[119.33,34]],
  [[118.74,4.5],[118.78,5.8],[118.82,4.5]],
  [[119.08,4.5],[119.09,17.1],[119.17,22.2],[119.21,20.9]],
  [[119.12,15.9],[119.12,10.8],[119.17,6.5],[119.24,8.3],[119.27,14.6],[119.21,21.7]],
  [[119.27,4.5],[119.33,8.3]],
  [[119.3,4],[119.33,6]],
  [[117.83,5.8],[117.95,4]],
  [[117.94,9.6],[118.02,5.8],[118.12,5],[118.16,8.3],[118.11,12.1],[118.01,12.6],[117.94,9.6]],
  [[118.96,40.6],[119,35.5],[119.04,40.6],[119,46.1],[118.96,40.6]],
  [[119.11,49.9],[119.13,39.8],[119.17,34.8],[119.21,39.8],[119.22,47.9],[119.17,55.7],[119.11,49.9]],
  [[118.77,58.7],[118.74,49.4],[118.58,49.9],[118.33,46.9],[118.29,49.1],[118.33,56.2],[118.41,81.4],[118.5,92.7],[118.58,96.5],[118.66,89.7]],
  [[118.86,83.9],[118.91,68.3],[118.95,69.3],[118.96,80],[118.95,90.2],[118.84,110.9],[118.82,109.9],[118.83,96.5]],
  [[118.75,126.7],[118.75,129.3],[118.75,133],[118.74,129.3],[118.75,126.7]],
  [[119.23,61.2],[119.19,70],[119.19,80.1],[119.25,97.8],[119.33,108.3]],
  [[119.3,67.5],[119.33,82.6]],
  [[117.83,178.4],[117.92,174.6],[117.99,211],[118.03,230],[118.02,249],[118,257.8]],
  [[117.92,259.5],[117.88,251.5],[117.83,238.9]],
  [[118.04,300],[118.07,281]],
  [[118.08,276.7],[118.1,270]],
  [[118.11,289.3],[118.12,300]],
  [[118.57,300],[118.57,286.2]],
  [[118.58,269],[118.66,278],[118.74,286.8],[118.83,300]]
];
const diffLabels24 = [
  ["-0.1",118.14,19.1,5],["-0.1",118.81,28.5,-8],["-0.1",119.18,28.5,5],["-0.2",119.25,12,-50],
  ["0.2",117.97,60,40],["0.1",117.96,75,40],["-0.1",118.73,75,-60],["0",117.99,108,80],
  ["0",118.37,98.5,85],["0",118.84,92.7,75],["0",119.27,63.2,-70],["0",119.14,172,80],
  ["0",117.97,260,0],["0",118.09,284.8,85],["0",118.58,279,85]
];

// page layout in pixels
const rowA = { top: 72.5, bottom: 1023, lefts: [158, 936, 1713, 2492], width: 685, cbLeft: 3207, cbTitleX: 3380 };
const rowB = { top: 1398, bottom: 2347, lefts: [158, 938, 1718, 2499], width: 688, cbLeft: 3219, cbTitleX: 3383 };
const marginLeft = 158, marginTop = 72, marginBottom = 150, cbWidth = 46;
const sansFont = "'Liberation Sans', Arial, sans-serif";

function jetColor(t) {
  const c = v => Math.max(0, Math.min(1, v)) * 255;
  return [c(1.5 - Math.abs(4 * t - 3)), c(1.5 - Math.abs(4 * t - 2)), c(1.5 - Math.abs(4 * t - 1))];
}

// fractional index of a value in a node list
function nodeIndex(nodes, v) {
  if (v <= nodes[0]) return 0;
  for (let i = 1; i < nodes.length; i++) {
    if (v <= nodes[i]) return i - 1 + (v - nodes[i - 1]) / (nodes[i] - nodes[i - 1]);
  }
  return nodes.length - 1;
}

function cubicWeights(f) {
  return [
    0.5 * (-f + 2 * f * f - f * f * f),
    0.5 * (2 - 5 * f * f + 3 * f * f * f),
    0.5 * (f + 4 * f * f - 3 * f * f * f),
    0.5 * (-f * f + f * f * f)
  ];
}

const heatPlugin = {
  id: "heat",
  beforeDatasetsDraw(chart, args, opts) {
    const { ctx, chartArea: a, scales: { x, y } } = chart;
    const left = Math.round(a.left), top = Math.round(a.top);
    const w = Math.round(a.right) - left, h = Math.round(a.bottom) - top;
    const img = ctx.createImageData(w, h);
    const rows = opts.field, span = opts.range[1] - opts.range[0];
    const nx = lonNodes.length, ny = depthNodes.length;
    const colInfo = [];
    for (let px = 0; px < w; px++) {
      const u = nodeIndex(lonNodes, x.getValueForPixel(left + px + 0.5));
      const i = Math.min(Math.floor(u), nx - 2);
      colInfo.push({ i, wt: cubicWeights(u - i) });
    }
    let k = 0;
    for (let py = 0; py < h; py++) {
      const v = nodeIndex(depthNodes, y.getValueForPixel(top + py + 0.5));
      const j = Math.min(Math.floor(v), ny - 2);
      const wy = cubicWeights(v - j);
      for (let px = 0; px < w; px++) {
        const { i, wt } = colInfo[px];
        let s = 0;
        for (let b = 0; b < 4; b++) {
          const row = rows[Math.max(0, Math.min(ny - 1, j - 1 + b))];
          for (let c = 0; c < 4; c++) {
            s += wy[b] * wt[c] * row[Math.max(0, Math.min(nx - 1, i - 1 + c))];
          }
        }
        const col = jetColor(Math.max(0, Math.min(1, (s - opts.range[0]) / span)));
        img.data[k++] = col[0]; img.data[k++] = col[1]; img.data[k++] = col[2]; img.data[k++] = 255;
      }
    }
    ctx.putImageData(img, left, top);
  },
  afterDatasetsDraw(chart, args, opts) {
    const { ctx, chartArea: a, scales: { x, y } } = chart;
    ctx.save();
    ctx.strokeStyle = "#444";
    ctx.lineWidth = 2;
    ctx.beginPath();
    ctx.moveTo(a.left, a.top);
    ctx.lineTo(a.right, a.top);
    ctx.stroke();
    ctx.fillStyle = "#0a0a0a";
    ctx.font = "36px " + sansFont;
    ctx.textAlign = "center";
    ctx.textBaseline = "middle";
    opts.labels.forEach(([text, lon, depth, rot]) => {
      ctx.save();
      ctx.translate(x.getPixelForValue(lon), y.getPixelForValue(depth));
      ctx.rotate(rot * Math.PI / 180);
      ctx.fillText(text, 0, 0);
      ctx.restore();
    });
    ctx.restore();
  }
};

const colorbarPlugin = {
  id: "colorbar",
  beforeDatasetsDraw(chart, args, opts) {
    const { ctx, chartArea: a, scales: { y } } = chart;
    const span = opts.range[1] - opts.range[0];
    const top = Math.round(a.top), bottom = Math.round(a.bottom);
    for (let py = top; py < bottom; py++) {
      const col = jetColor((y.getValueForPixel(py + 0.5) - opts.range[0]) / span);
      ctx.fillStyle = `rgb(${col[0]},${col[1]},${col[2]})`;
      ctx.fillRect(a.left, py, a.right - a.left, 1);
    }
    ctx.strokeStyle = "#555";
    ctx.lineWidth = 2;
    ctx.strokeRect(a.left, a.top, a.right - a.left, a.bottom - a.top);
    ctx.strokeStyle = "#333";
    opts.ticks.forEach(t => {
      const p = y.getPixelForValue(t);
      ctx.beginPath();
      ctx.moveTo(a.right - 11, p);
      ctx.lineTo(a.right, p);
      ctx.stroke();
    });
    // title reads upwards, chart.js would turn a right-hand title the other way
    ctx.save();
    ctx.translate(opts.titleX - chart.canvas.offsetLeft, (a.top + a.bottom) / 2);
    ctx.rotate(-Math.PI / 2);
    ctx.fillStyle = "#333";
    ctx.font = "bold 46px " + sansFont;
    ctx.textAlign = "center";
    ctx.textBaseline = "middle";
    ctx.fillText(opts.title, 0, 0);
    ctx.restore();
  }
};

function addCanvas(left, top, width, height) {
  const cv = document.createElement("canvas");
  cv.width = width;
  cv.height = height;
  cv.style.cssText = `left:${left}px;top:${top}px;width:${width}px;height:${height}px`;
  document.body.appendChild(cv);
  return cv;
}

function drawPanel(row, col, day, field, range, lines, labels) {
  const plotH = row.bottom - row.top;
  const cv = addCanvas(row.lefts[col] - marginLeft, Math.round(row.top - marginTop), marginLeft + row.width + 4, Math.round(marginTop + plotH + marginBottom));
  new Chart(cv, {
    type: "scatter",
    data: {
      datasets: lines.map(pts => ({
        data: pts.map(p => ({ x: p[0], y: p[1] })),
        showLine: true,
        pointRadius: 0,
        borderColor: "#151515",
        borderWidth: 2,
        tension: 0
      }))
    },
    plugins: [heatPlugin],
    options: {
      responsive: false,
      animation: false,
      devicePixelRatio: 1,
      layout: { padding: { right: 4 } },
      plugins: {
        legend: { display: false },
        tooltip: { enabled: false },
        title: {
          display: true,
          fullSize: false,
          text: day,
          color: "#111",
          font: { size: 44, weight: "bold", family: sansFont, lineHeight: 1.2 },
          padding: { top: 15, bottom: 4 }
        },
        heat: { field, range, labels }
      },
      scales: {
        x: {
          type: "linear",
          min: 117.833,
          max: 119.333,
          afterBuildTicks: s => { s.ticks = lonTicks.map(v => ({ value: v })); },
          afterFit: s => { s.height = marginBottom; },
          grid: { display: false, drawTicks: false },
          border: { display: false },
          ticks: { color: "#444", padding: 18, maxRotation: 0, callback: v => String(v), font: { size: 36, family: sansFont } },
          title: {
            display: true,
            text: "Longitude(°E)",
            color: "#333",
            padding: { top: 12, bottom: 24 },
            font: { size: 47, weight: "bold", family: sansFont }
          }
        },
        y: {
          reverse: true,
          min: 4,
          max: 300,
          afterBuildTicks: s => { s.ticks = depthTicks.map(v => ({ value: v })); },
          afterFit: s => { s.width = marginLeft; },
          grid: { display: false, drawTicks: false },
          border: { display: false },
          ticks: { color: "#444", padding: 16, labelOffset: 3, font: { size: 36, family: sansFont } },
          title: {
            display: col === 0,
            text: "Depth(m)",
            color: "#333",
            padding: { top: 20, bottom: 0 },
            font: { size: 46, weight: "bold", family: sansFont }
          }
        }
      }
    }
  });
}

function drawColorbar(row, range, ticks, title) {
  const plotH = row.bottom - row.top;
  const cvW = 3430 - row.cbLeft + 3;
  const cv = addCanvas(row.cbLeft - 3, Math.round(row.top - marginTop), cvW, Math.round(marginTop + plotH + marginBottom));
  new Chart(cv, {
    type: "scatter",
    data: { datasets: [{ data: [] }] },
    plugins: [colorbarPlugin],
    options: {
      responsive: false,
      animation: false,
      devicePixelRatio: 1,
      layout: { padding: { left: 3, top: marginTop, bottom: marginBottom } },
      plugins: {
        legend: { display: false },
        tooltip: { enabled: false },
        colorbar: { range, ticks, title, titleX: row.cbTitleX }
      },
      scales: {
        x: { display: false, type: "linear", min: 0, max: 1 },
        y: {
          position: "right",
          min: range[0],
          max: range[1],
          afterBuildTicks: s => { s.ticks = ticks.map(v => ({ value: v })); },
          afterFit: s => { s.width = cvW - 3 - cbWidth; },
          grid: { display: false, drawTicks: false },
          border: { display: false },
          ticks: { color: "#555", padding: 15, labelOffset: 3, callback: v => String(v), font: { size: 34, family: sansFont } }
        }
      }
    }
  });
}

const salinityFields = [salinity21, salinity22, salinity23, salinity24];
const salinityLines = [salinityLines21, salinityLines22, salinityLines23, salinityLines24];
const salinityLabels = [salinityLabels21, salinityLabels22, salinityLabels23, salinityLabels24];
const diffFields = [diff21, diff22, diff23, diff24];
const diffLines = [diffLines21, diffLines22, diffLines23, diffLines24];
const diffLabels = [diffLabels21, diffLabels22, diffLabels23, diffLabels24];

dayLabels.forEach((day, i) => {
  drawPanel(rowA, i, day, salinityFields[i], salinityRange, salinityLines[i], salinityLabels[i]);
  drawPanel(rowB, i, day, diffFields[i], diffRange, diffLines[i], diffLabels[i]);
});
drawColorbar(rowA, salinityRange, salinityTicks, "Salinity(PSU)");
drawColorbar(rowB, diffRange, diffTicks, "Salinity difference(PSU)");
</script>
</body>
</html>
